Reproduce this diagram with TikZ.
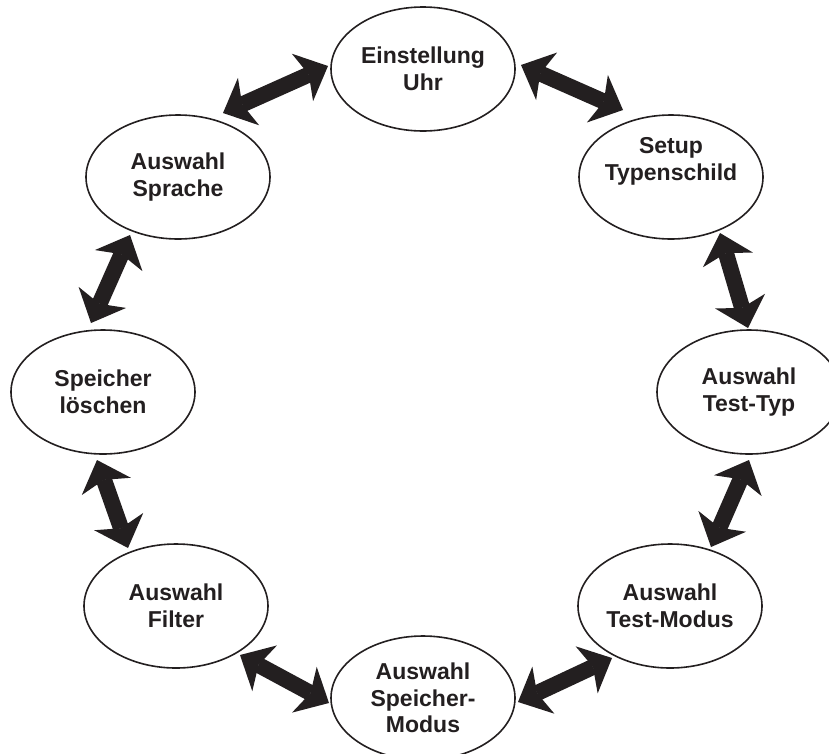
\documentclass[tikz,border=0pt]{standalone}
\usepackage{fontspec}
\setmainfont{Liberation Sans}
\usetikzlibrary{shapes.geometric,arrows.meta,calc}
\definecolor{ink}{HTML}{231F20}
\begin{document}
\begin{tikzpicture}[x=1pt,y=-1pt,
  state/.style={ellipse,draw=ink,line width=1.6pt,fill=white,
    minimum width=184pt,minimum height=124pt,inner xsep=-12pt,inner ysep=-15pt,
    align=center,font=\fontsize{23}{26.6}\selectfont\bfseries,text=ink},
  tipx/.tip={Stealth[length=28pt,width=52pt,inset=7pt,line width=0pt]},
  link/.style={draw=ink,line width=16pt,tipx-tipx}]
\useasboundingbox (0,0) rectangle (829,753);
\clip (0,0) rectangle (829,753);
\node[state] (uhr) at (423,69) {Einstellung\\Uhr};
\node[state] (set) at (671,177) {Setup\\Typenschild\\[10pt]\mbox{}};
\node[state] (tty) at (749,392) {Auswahl\\Test-Typ};
\node[state] (tmo) at (670,606) {Auswahl\\Test-Modus};
\node[state] (smo) at (423,698) {Auswahl\\Speicher-\\Modus};
\node[state] (fil) at (176,606) {Auswahl\\Filter};
\node[state] (spl) at (103,392) {Speicher\\löschen};
\node[state] (spr) at (178,177) {Auswahl\\Sprache};
\draw[link] ($(spr)+(45,-64)$) -- ($(uhr)+(-95,-3)$);
\draw[link] ($(uhr)+(98,-4)$) -- ($(set)+(-48,-67)$);
\draw[link] ($(spr)+(-48,58)$) -- ($(spl)+(-12,-69)$);
\draw[link] ($(spl)+(-6,68)$) -- ($(fil)+(-48,-58)$);
\draw[link] ($(fil)+(64,49)$) -- ($(smo)+(-94,5)$);
\draw[link] ($(smo)+(95,4)$) -- ($(tmo)+(-58,52)$);
\draw[link] ($(tmo)+(41,-59)$) -- ($(tty)+(0,68)$);
\draw[link] ($(tty)+(-1,-64)$) -- ($(set)+(49,56)$);
\end{tikzpicture}
\end{document}
